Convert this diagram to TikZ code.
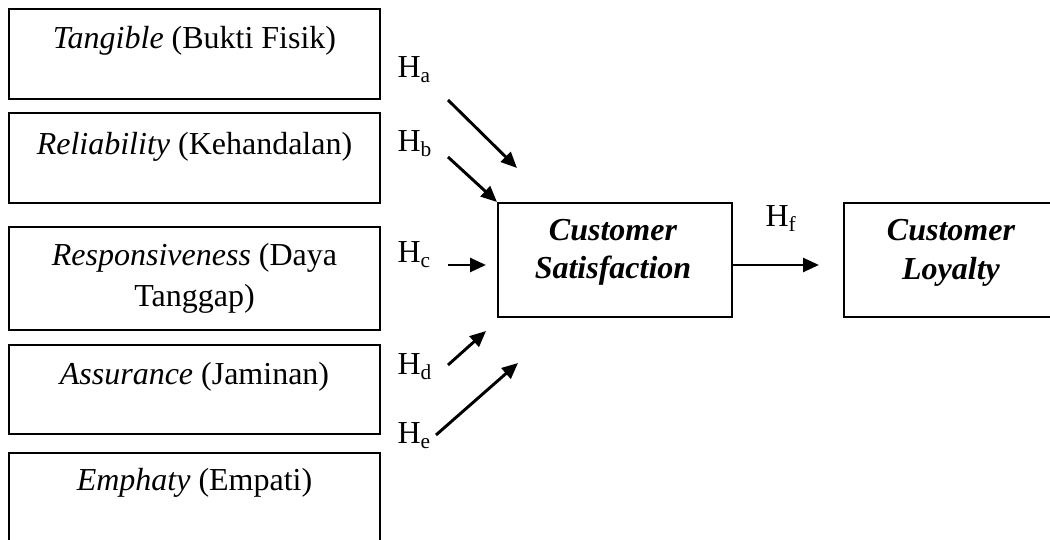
\documentclass[tikz,border=0pt]{standalone}
\usepackage{fontspec}
\setmainfont{Liberation Serif}
\usetikzlibrary{arrows.meta}
\begin{document}
\begin{tikzpicture}[x=0.375pt,y=-0.375pt,
  box/.style={draw,line width=0.75pt,inner sep=0pt},
  txt/.style={anchor=base,inner sep=0pt,font=\fontsize{12}{14}\selectfont},
  btxt/.style={anchor=base,inner sep=0pt,font=\fontsize{12}{14}\selectfont\bfseries\itshape},
  hyp/.style={anchor=base west,inner sep=0pt,font=\fontsize{12}{14}\selectfont},
  arr/.style={line width=1.1pt,-{Triangle[length=6pt,width=5.2pt]}}]
\useasboundingbox (0,0) rectangle (1050,540);
% left boxes
\node[box,minimum width=139.1pt,minimum height=33.75pt] (tan) at (194.5,54) {};
\node[box,minimum width=139.1pt,minimum height=33.75pt] (rel) at (194.5,158) {};
\node[box,minimum width=139.1pt,minimum height=38.6pt] (res) at (194.5,278.5) {};
\node[box,minimum width=139.1pt,minimum height=33.4pt] (ass) at (194.5,389.5) {};
\node[box,minimum width=139.1pt,minimum height=40.1pt] (emp) at (194.5,506.5) {};
\node[txt] (tanT) at (194.5,49) {\textit{Tangible} (Bukti Fisik)};
\node[txt] (relT) at (194.5,155) {\textit{Reliability} (Kehandalan)};
\node[txt] (resT1) at (194.5,266) {\textit{Responsiveness} (Daya};
\node[txt] (resT2) at (194.5,307) {Tanggap)};
\node[txt] (assT) at (194.5,385) {\textit{Assurance} (Jaminan)};
\node[txt] (empT) at (194.5,491) {\textit{Emphaty} (Empati)};
% right boxes
\node[box,minimum width=87.75pt,minimum height=42.75pt] (cs) at (615,260) {};
\node[box,minimum width=87.75pt,minimum height=42.75pt] (cl) at (961,260) {};
\node[btxt] (csT1) at (613,241) {Customer};
\node[btxt] (csT2) at (613,279) {Satisfaction};
\node[btxt] (clT1) at (951,241) {Customer};
\node[btxt] (clT2) at (951,280) {Loyalty};
% hypothesis labels
\node[hyp] (ha) at (397,78) {H\textsubscript{a}};
\node[hyp] (hb) at (397,152) {H\textsubscript{b}};
\node[hyp] (hc) at (397,263) {H\textsubscript{c}};
\node[hyp] (hd) at (397,375) {H\textsubscript{d}};
\node[hyp] (he) at (397,444) {H\textsubscript{e}};
\node[hyp] (hf) at (765,227) {H\textsubscript{f}};
% arrow end points
\coordinate (a1) at (448,100); \coordinate (a2) at (517,168);
\coordinate (b1) at (448,157);
\coordinate (c1) at (448,265); \coordinate (c2) at (486,265);
\coordinate (d1) at (448,365); \coordinate (d2) at (486,331);
\coordinate (e1) at (436,435); \coordinate (e2) at (518,363);
\coordinate (f2) at (819,265);
\draw[arr] (a1) -- (a2);
\draw[arr] (b1) -- (cs.north west);
\draw[arr] (c1) -- (c2);
\draw[arr] (d1) -- (d2);
\draw[arr] (e1) -- (e2);
\draw[arr] (cs.east |- f2) -- (f2);
\end{tikzpicture}
\end{document}
